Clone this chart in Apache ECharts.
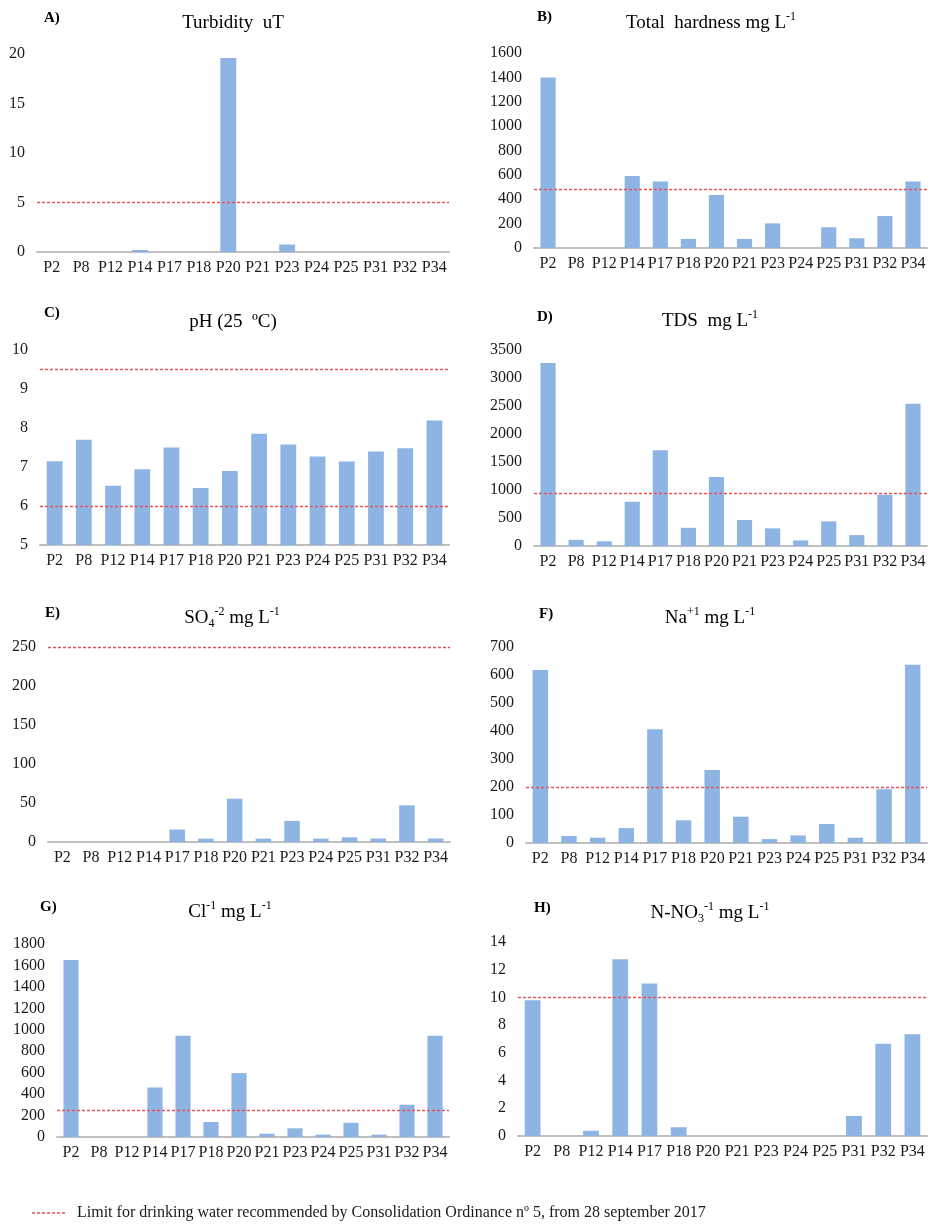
<!DOCTYPE html>
<html>
<head>
<meta charset="utf-8">
<title>Water quality</title>
<script src="https://cdn.jsdelivr.net/npm/echarts@6/dist/echarts.min.js"></script>
<style>
  html, body { margin: 0; padding: 0; background: #fff; }
  #chart { width: 944px; height: 1230px; }
</style>
</head>
<body>
<div id="chart"></div>
<script>
// sampling wells
var wells = ['P2','P8','P12','P14','P17','P18','P20','P21','P23','P24','P25','P31','P32','P34'];

// values per parameter
var turbidity = [0, 0, 0, 0.2, 0, 0, 19.6, 0, 0.75, 0, 0, 0, 0, 0];
var hardness  = [1400, 0, 0, 590, 545, 75, 435, 75, 202, 0, 170, 80, 262, 545];
var ph        = [7.15, 7.7, 6.52, 6.94, 7.5, 6.46, 6.9, 7.85, 7.58, 7.27, 7.14, 7.4, 7.48, 8.19];
var tds       = [3270, 110, 85, 790, 1710, 325, 1230, 465, 315, 100, 440, 195, 915, 2540];
var sulphate  = [0, 0, 0, 0, 16, 4.3, 55.5, 4.3, 27, 4.3, 6, 4.5, 47, 4.5];
var sodium    = [618, 25, 19, 53, 406, 81, 261, 94, 14, 27, 68, 19, 192, 637];
var chloride  = [1650, 0, 0, 462, 945, 140, 596, 31, 81, 22, 133, 22, 301, 945];
var nitrate   = [9.8, 0, 0.38, 12.75, 11, 0.63, 0, 0, 0, 0, 0, 1.45, 6.65, 7.35];

// drinking water limits (red dotted lines)
var turbidityLimit = [5];
var hardnessLimit  = [480];
var phLimit        = [9.5, 6];
var tdsLimit       = [950];
var sulphateLimit  = [250];
var sodiumLimit    = [200];
var chlorideLimit  = [250];
var nitrateLimit   = [10];

// y axis ranges
var yMin  = [0, 0, 5, 0, 0, 0, 0, 0];
var yMax  = [20, 1600, 10, 3500, 250, 700, 1800, 14];
var yStep = [5, 200, 1, 500, 50, 100, 200, 2];

var panelLabels = ['A)','B)','C)','D)','E)','F)','G)','H)'];
var panelTitles = [
  'Turbidity  uT',
  'Total  hardness mg L{sup|-1}',
  'pH (25  ºC)',
  'TDS  mg L{sup|-1}',
  'SO{sub|4}{sup|-2} mg L{sup|-1}',
  'Na{sup|+1} mg L{sup|-1}',
  'Cl{sup|-1} mg L{sup|-1}',
  'N-NO{sub|3}{sup|-1} mg L{sup|-1}'
];
var legendText = 'Limit for drinking water recommended by Consolidation Ordinance nº 5, from 28 september 2017';

var values = [turbidity, hardness, ph, tds, sulphate, sodium, chloride, nitrate];
var limits = [turbidityLimit, hardnessLimit, phLimit, tdsLimit, sulphateLimit, sodiumLimit, chlorideLimit, nitrateLimit];

// layout
var grids = [
  {left: 37,  top: 54,  width: 412, height: 198},
  {left: 534, top: 53,  width: 393, height: 195},
  {left: 40,  top: 350, width: 409, height: 195},
  {left: 534, top: 350, width: 393, height: 196},
  {left: 48,  top: 647, width: 402, height: 195},
  {left: 526, top: 647, width: 401, height: 196},
  {left: 57,  top: 944, width: 392, height: 193},
  {left: 518, top: 942, width: 409, height: 194}
];
var titlePos = [[233, 23], [711, 23], [233, 322], [710, 321], [232, 618], [710, 618], [230, 912], [710, 913]];
var labelPos = [[44, 18], [537, 17], [44, 313], [537, 317], [45, 613], [539, 614], [40, 907], [534, 908]];

var FONT = '"Liberation Serif", "Times New Roman", serif';
var barColor = '#8db4e2';
var limitColor = '#e8525a';
var axisColor = '#bfbfbf';

var chart = echarts.init(document.getElementById('chart'));

var xAxes = [], yAxes = [], series = [], graphics = [];

grids.forEach(function (g, i) {
  xAxes.push({
    type: 'category',
    gridIndex: i,
    data: wells,
    boundaryGap: true,
    axisTick: {show: false},
    axisLine: {lineStyle: {color: axisColor, width: 2}},
    axisLabel: {interval: 0, margin: 8, color: '#1a1a1a', fontSize: 16, fontFamily: FONT}
  });
  yAxes.push({
    type: 'value',
    gridIndex: i,
    min: yMin[i],
    max: yMax[i],
    interval: yStep[i],
    axisLine: {show: false},
    axisTick: {show: false},
    splitLine: {show: false},
    axisLabel: {
      margin: 12, color: '#1a1a1a', fontSize: 16, fontFamily: FONT,
      formatter: function (v) { return String(v); }
    }
  });
  series.push({
    type: 'bar',
    xAxisIndex: i,
    yAxisIndex: i,
    data: values[i],
    barWidth: '54%',
    itemStyle: {color: barColor},
    silent: true,
    markLine: {
      silent: true,
      symbol: 'none',
      label: {show: false},
      lineStyle: {color: limitColor, type: [3, 2], width: 1.3},
      data: limits[i].map(function (v) { return {yAxis: v}; })
    }
  });
  graphics.push({
    type: 'text',
    x: titlePos[i][0],
    y: titlePos[i][1],
    style: {
      text: panelTitles[i],
      fontSize: 19,
      fontFamily: FONT,
      fill: '#000',
      align: 'center',
      verticalAlign: 'middle',
      lineHeight: 24,
      rich: {
        sup: {fontSize: 12, fontFamily: FONT, fill: '#000', verticalAlign: 'top', lineHeight: 12},
        sub: {fontSize: 12, fontFamily: FONT, fill: '#000', verticalAlign: 'bottom', lineHeight: 12}
      }
    }
  });
  graphics.push({
    type: 'text',
    x: labelPos[i][0],
    y: labelPos[i][1],
    style: {
      text: panelLabels[i],
      fontSize: 15,
      fontWeight: 'bold',
      fontFamily: FONT,
      fill: '#000',
      align: 'left',
      verticalAlign: 'middle'
    }
  });
});

// legend for the limit line
graphics.push({
  type: 'line',
  shape: {x1: 32, y1: 1213, x2: 65, y2: 1213},
  style: {stroke: limitColor, lineWidth: 1.3, lineDash: [3, 2]}
});
graphics.push({
  type: 'text',
  x: 77,
  y: 1213,
  style: {
    text: legendText,
    fontSize: 16,
    fontFamily: FONT,
    fill: '#1a1a1a',
    align: 'left',
    verticalAlign: 'middle'
  }
});

chart.setOption({
  animation: false,
  backgroundColor: '#fff',
  grid: grids,
  xAxis: xAxes,
  yAxis: yAxes,
  series: series,
  graphic: graphics
});
</script>
</body>
</html>
